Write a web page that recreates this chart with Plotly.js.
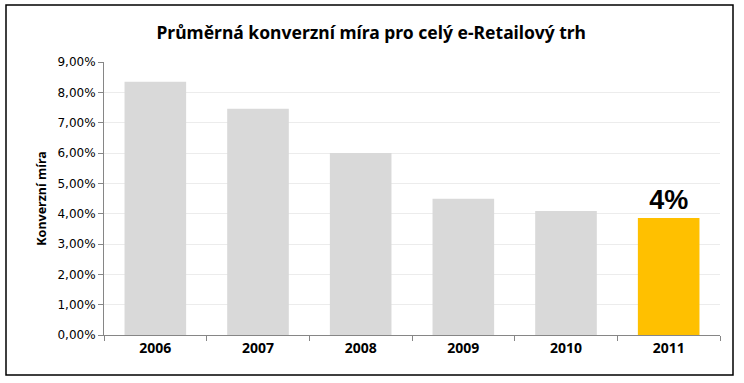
<!DOCTYPE html>
<html><head><meta charset="utf-8">
<script src="https://cdn.plot.ly/plotly-3.0.1.min.js"></script>
<style>html,body{margin:0;padding:0;background:#fff}#c{width:744px;height:383px}</style>
</head><body><div id="c"></div>
<script>
const years = ['2006','2007','2008','2009','2010','2011'];
const rates = [0.0835, 0.0746, 0.0600, 0.0449, 0.0409, 0.0386];
const barColors = ['#d9d9d9','#d9d9d9','#d9d9d9','#d9d9d9','#d9d9d9','#ffc000'];
const labels = ['','','','','','<b>4%</b>'];
const yTicks = [0,0.01,0.02,0.03,0.04,0.05,0.06,0.07,0.08,0.09];

const W = 744, H = 383, L = 104, R = 24, T = 62, B = 48;
const pw = W - L - R, ph = H - T - B;
function px(x){return (x - L)/pw;}
function py(y){return (H - B - y)/ph;}

Plotly.newPlot('c', [{
  type:'bar', x: years, y: rates,
  marker:{color: barColors, line:{width:0}},
  text: labels, textposition:'outside', cliponaxis:false,
  textfont:{family:'Liberation Sans, Arial, sans-serif', size:27, color:'#000'},
  hoverinfo:'none'
}], {
  width: W, height: H,
  margin:{l:L, r:R, t:T, b:B},
  paper_bgcolor:'#fff', plot_bgcolor:'#fff',
  separators:',.',
  bargap:0.4,
  showlegend:false,
  font:{family:'DejaVu Sans, Verdana, sans-serif', size:12, color:'#000'},
  title:{text:'<b>Průměrná konverzní míra pro celý e-Retailový trh</b>',
    font:{family:'Noto Sans, Open Sans, sans-serif', size:17.5, color:'#000'},
    x:0.499, xanchor:'center', y:1 - 33/H, yanchor:'middle'},
  xaxis:{type:'category', showline:true, linecolor:'#868686', linewidth:1,
    ticks:'outside', ticklen:5, tickcolor:'#868686', tickson:'boundaries',
    tickfont:{family:'Noto Sans, Open Sans, sans-serif', size:14, color:'#000', weight:'bold'},
    showgrid:false, zeroline:false},
  yaxis:{range:[0,0.09], tickvals:yTicks, tickformat:'.2%',
    showline:true, linecolor:'#868686', linewidth:1,
    ticks:'outside', ticklen:5, tickcolor:'#868686',
    showgrid:true, gridcolor:'#ececec', gridwidth:1, zeroline:false,
    tickfont:{family:'DejaVu Sans, Verdana, sans-serif', size:12, color:'#000'},
    title:{text:'<b>Konverzní míra</b>', standoff:8,
      font:{family:'Noto Sans, Open Sans, sans-serif', size:12.5, color:'#000'}}},
  shapes:[{type:'rect', xref:'paper', yref:'paper',
    x0:px(6), x1:px(733), y0:py(5), y1:py(375),
    line:{color:'#000', width:1.5}, fillcolor:'rgba(0,0,0,0)', layer:'above'}]
}, {staticPlot:true});
</script></body></html>
